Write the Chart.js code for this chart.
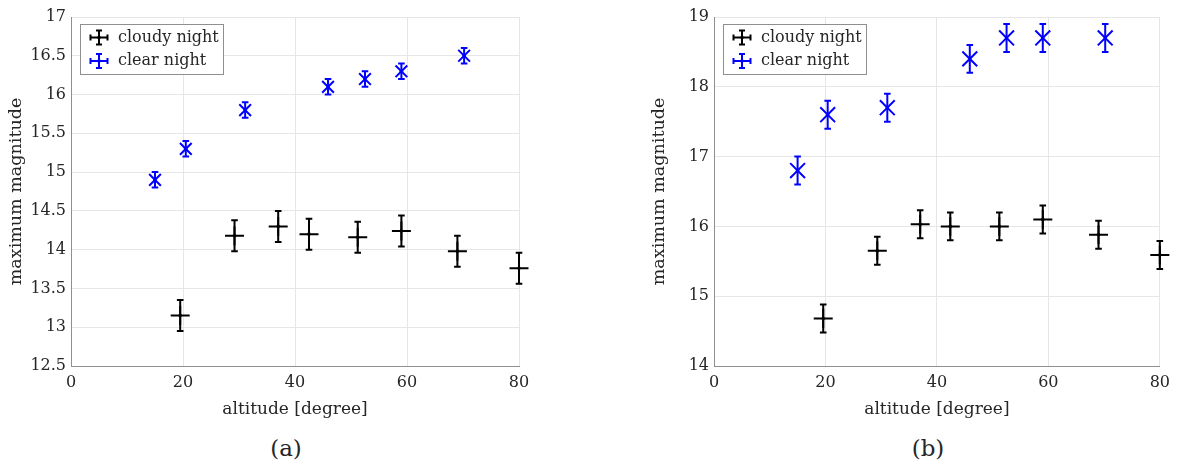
<!DOCTYPE html>
<html>
<head>
<meta charset="utf-8">
<title>maximum magnitude vs altitude</title>
<script src="https://cdn.jsdelivr.net/npm/chart.js@4.4.0/dist/chart.umd.min.js"></script>
<style>
    body { margin: 0; background: #fff; width: 1177px; height: 469px; position: relative; overflow: hidden; font-family: "DejaVu Serif"; color: #262626; }
    canvas { position: absolute; top: 0; }
    #chartA { left: 0; }
    #chartB { left: 643px; }
    .cap { position: absolute; top: 435px; font-size: 23px; width: 60px; text-align: center; }
</style>
</head>
<body>
<canvas id="chartA" width="560" height="430"></canvas>
<canvas id="chartB" width="534" height="430"></canvas>
<div class="cap" style="left:256px">(a)</div>
<div class="cap" style="left:898px">(b)</div>
<script>
// (a) altitude / magnitude / error, cloudy night and clear night
var altCloudyA = [19.5, 29.2, 37, 42.5, 51.2, 59, 69, 80];
var magCloudyA = [13.15, 14.18, 14.3, 14.2, 14.16, 14.24, 13.98, 13.76];
var errCloudyA = [0.2, 0.2, 0.2, 0.2, 0.2, 0.2, 0.2, 0.2];
var altClearA = [15, 20.5, 31.1, 45.9, 52.5, 59, 70.2];
var magClearA = [14.9, 15.3, 15.8, 16.1, 16.2, 16.3, 16.5];
var errClearA = [0.1, 0.1, 0.1, 0.1, 0.1, 0.1, 0.1];

// (b)
var altCloudyB = [19.6, 29.3, 37, 42.4, 51.2, 59, 69, 80];
var magCloudyB = [14.68, 15.65, 16.03, 16.0, 16.0, 16.1, 15.88, 15.59];
var errCloudyB = [0.2, 0.2, 0.2, 0.2, 0.2, 0.2, 0.2, 0.2];
var altClearB = [15, 20.4, 31.1, 45.9, 52.5, 59, 70.2];
var magClearB = [16.8, 17.6, 17.7, 18.4, 18.7, 18.7, 18.7];
var errClearB = [0.2, 0.2, 0.2, 0.2, 0.2, 0.2, 0.2];

var xTicks = [0, 20, 40, 60, 80];
var yRangeA = [12.5, 17, 0.5];
var yRangeB = [14, 19, 1];

var SERIF = "'DejaVu Serif'";
Chart.defaults.font.family = SERIF;
Chart.defaults.color = '#262626';

function pts(xs, ys, es) {
    var out = [];
    for (var i = 0; i < xs.length; i++) out.push({ x: xs[i], y: ys[i], e: es[i] });
    return out;
}

// vertical error bars with caps + small centre dot
var errorBars = {
    id: 'errorBars',
    afterDatasetsDraw: function(chart) {
        var ctx = chart.ctx, xs = chart.scales.x, ys = chart.scales.y;
        ctx.save();
        chart.data.datasets.forEach(function(ds) {
            ctx.strokeStyle = ds.borderColor;
            ctx.fillStyle = ds.borderColor;
            ctx.lineWidth = 2;
            ds.data.forEach(function(p) {
                var px = xs.getPixelForValue(p.x);
                var top = ys.getPixelForValue(p.y + p.e);
                var bot = ys.getPixelForValue(p.y - p.e);
                ctx.beginPath();
                ctx.moveTo(px, top); ctx.lineTo(px, bot);
                ctx.moveTo(px - 3.3, top); ctx.lineTo(px + 3.3, top);
                ctx.moveTo(px - 3.3, bot); ctx.lineTo(px + 3.3, bot);
                ctx.stroke();
                ctx.beginPath();
                ctx.arc(px, ys.getPixelForValue(p.y), 1.8, 0, Math.PI * 2);
                ctx.fill();
            });
        });
        ctx.restore();
    }
};

// boxed legend in the upper left corner, errorbar glyphs
var boxLegend = {
    id: 'boxLegend',
    afterDraw: function(chart) {
        var ctx = chart.ctx, a = chart.chartArea;
        var bx = a.left + 9, by = 24, bw = 143, bh = 50;
        ctx.save();
        ctx.fillStyle = '#fff';
        ctx.fillRect(bx, by, bw, bh);
        ctx.strokeStyle = '#8f8f8f';
        ctx.lineWidth = 1;
        ctx.strokeRect(bx + 0.5, by + 0.5, bw, bh);
        ctx.font = '16px ' + SERIF;
        ctx.textBaseline = 'middle';
        chart.data.datasets.forEach(function(ds, i) {
            var cy = by + 13.5 + i * 23.5, cx = bx + 19;
            ctx.strokeStyle = ds.borderColor;
            ctx.fillStyle = ds.borderColor;
            ctx.lineWidth = 2;
            ctx.beginPath();
            ctx.moveTo(cx, cy - 7); ctx.lineTo(cx, cy + 7);
            ctx.moveTo(cx - 3, cy - 7); ctx.lineTo(cx + 3, cy - 7);
            ctx.moveTo(cx - 3, cy + 7); ctx.lineTo(cx + 3, cy + 7);
            ctx.moveTo(cx - 8.5, cy); ctx.lineTo(cx + 8.5, cy);
            ctx.moveTo(cx - 8.5, cy - 3); ctx.lineTo(cx - 8.5, cy + 3);
            ctx.moveTo(cx + 8.5, cy - 3); ctx.lineTo(cx + 8.5, cy + 3);
            ctx.stroke();
            ctx.beginPath();
            ctx.arc(cx, cy, 1.8, 0, Math.PI * 2);
            ctx.fill();
            ctx.fillStyle = '#262626';
            ctx.fillText(ds.label, bx + 38, cy);
        });
        ctx.restore();
    }
};

function makeChart(id, cloudy, clear, yRange, xRad, padRight) {
    return new Chart(document.getElementById(id), {
        type: 'scatter',
        data: {
            datasets: [{
                label: 'cloudy night',
                data: cloudy,
                pointStyle: 'cross',
                pointRadius: 9.5,
                borderColor: '#000000',
                backgroundColor: '#000000',
                pointBorderWidth: 2,
                clip: false
            }, {
                label: 'clear night',
                data: clear,
                pointStyle: 'crossRot',
                pointRadius: xRad,
                borderColor: '#0000ff',
                backgroundColor: '#0000ff',
                pointBorderWidth: 2,
                clip: false
            }]
        },
        options: {
            responsive: false,
            animation: false,
            events: [],
            layout: { padding: { left: 0, top: 17, right: padRight, bottom: 0 } },
            plugins: { legend: { display: false }, tooltip: { enabled: false } },
            scales: {
                x: {
                    type: 'linear',
                    min: 0, max: 80,
                    afterBuildTicks: function(s) { s.ticks = xTicks.map(function(v) { return { value: v }; }); },
                    afterFit: function(s) { s.height = 64; },
                    grid: { color: '#e6e6e6', drawTicks: false },
                    border: { color: '#8f8f8f', width: 1 },
                    ticks: { padding: 7, font: { size: 16 }, maxRotation: 0 },
                    title: { display: true, text: 'altitude [degree]', font: { size: 17 }, padding: { top: 0, bottom: 10 } }
                },
                y: {
                    min: yRange[0], max: yRange[1],
                    afterFit: function(s) { s.width = 71; },
                    grid: { color: '#e6e6e6', drawTicks: false },
                    border: { color: '#8f8f8f', width: 1 },
                    ticks: { stepSize: yRange[2], padding: 5, font: { size: 16 },
                        callback: function(v) { return String(+v.toFixed(2)); } },
                    title: { display: true, text: 'maximum magnitude', font: { size: 17.5 }, padding: { top: 6, bottom: 0 } }
                }
            }
        },
        plugins: [errorBars, boxLegend]
    });
}

makeChart('chartA', pts(altCloudyA, magCloudyA, errCloudyA), pts(altClearA, magClearA, errClearA), yRangeA, 8.3, 41);
makeChart('chartB', pts(altCloudyB, magCloudyB, errCloudyB), pts(altClearB, magClearB, errClearB), yRangeB, 10.5, 16);
</script>
</body>
</html>
